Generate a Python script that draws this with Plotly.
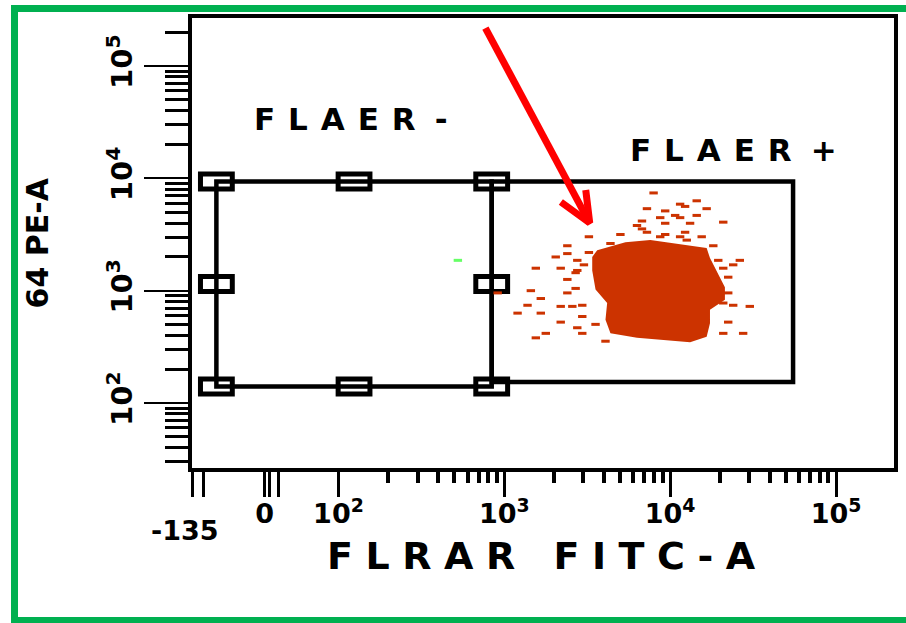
import numpy as np
import plotly.graph_objects as go

# ---------------- values (log10 of fluorescence intensity) ----------------
# outline of the dense FLAER+ event cluster
core_fitc_log = [3.56, 3.73, 3.88, 4.04, 4.22, 4.24, 4.28, 4.33, 4.33, 4.24, 4.24,
                 4.22, 4.12, 3.97, 3.80, 3.64, 3.61, 3.62, 3.55, 3.53, 3.53]
core_pe_log = [3.36, 3.43, 3.45, 3.42, 3.38, 3.29, 3.18, 3.03, 2.92, 2.83, 2.71,
               2.59, 2.54, 2.56, 2.58, 2.62, 2.74, 2.89, 3.01, 3.18, 3.30]

# sparse events scattered around the cluster
event_fitc_log = [3.90, 4.06, 4.09, 4.16, 4.22, 3.86, 3.97, 4.03, 4.06, 4.16,
                  3.94, 3.83, 3.97, 4.12, 4.32, 3.80, 3.83, 3.86, 4.09, 3.70,
                  3.97, 3.51, 3.94, 4.06, 4.19, 4.10, 3.64, 3.38, 3.51, 4.26,
                  3.38, 3.31, 3.44, 4.29, 4.42, 3.48, 4.38, 3.19, 3.34, 3.44,
                  4.32, 3.43, 3.38, 4.35, 3.43, 3.16, 3.38, 2.96, 3.22, 4.35,
                  3.14, 3.34, 3.41, 3.47, 4.38, 4.32, 4.48, 3.08, 3.22, 3.47,
                  3.34, 3.44, 3.55, 4.35, 3.25, 3.47, 4.32, 4.44, 3.19, 3.61]
event_pe_log = [3.87, 3.77, 3.75, 3.80, 3.73, 3.73, 3.71, 3.67, 3.65, 3.67,
                3.65, 3.62, 3.60, 3.60, 3.61, 3.58, 3.55, 3.52, 3.52, 3.50,
                3.50, 3.48, 3.48, 3.48, 3.48, 3.45, 3.42, 3.40, 3.34, 3.40,
                3.33, 3.30, 3.27, 3.27, 3.27, 3.23, 3.23, 3.20, 3.20, 3.18,
                3.20, 3.16, 3.10, 3.12, 3.02, 3.00, 2.98, 2.98, 2.93, 2.98,
                2.87, 2.86, 2.86, 2.87, 2.87, 2.89, 2.86, 2.80, 2.80, 2.77,
                2.72, 2.67, 2.70, 2.72, 2.62, 2.62, 2.62, 2.62, 2.58, 2.55]

# lone event inside the FLAER- gate
neg_event_fitc_log = [2.72]
neg_event_pe_log = [3.27]

# gate bounds [low, high]
flaer_neg_fitc_log = [1.264, 2.924]
flaer_neg_pe_log = [2.147, 3.972]
flaer_pos_fitc_log = [2.924, 4.741]
flaer_pos_pe_log = [2.187, 3.972]

# pointer arrow: tail, tip and the two head wings
arrow_fitc_log = [2.886, 3.515, None, 3.341, 3.515, 3.491]
arrow_pe_log = [5.338, 3.602, None, 3.789, 3.602, 3.896]

# axis ticks
x_decades = [2, 3, 4, 5]
x_decade_labels = ["10<sup>2</sup>", "10<sup>3</sup>", "10<sup>4</sup>", "10<sup>5</sup>"]
x_low_ticks_log = [1.118, 1.186, 1.5546, 1.5846, 1.6355]   # -135 ... 0 region of the display
x_low_labels = ["", "", "0", "", ""]
y_decades = [2, 3, 4, 5]
y_decade_labels = ["10<sup>2</sup>", "10<sup>3</sup>", "10<sup>4</sup>", "10<sup>5</sup>"]

# ---------------- figure ----------------
W, H = 906, 623
ML, MR, MT, MB = 192, 8, 18, 155
PW, PH = W - ML - MR, H - MT - MB
X_RANGE = [1.117, 5.3495]
Y_RANGE = [1.4213, 5.4274]
RED_EVT = "#cc3300"
GREEN = "#00b050"
FONT = "DejaVu Sans"

# handle box half-size, in decades of each axis (about 16 x 7.5 px)
HANDLE_HALF_X = 16 * (X_RANGE[1] - X_RANGE[0]) / PW
HANDLE_HALF_Y = 7.5 * (Y_RANGE[1] - Y_RANGE[0]) / PH


def to_lin(vals):
    return [None if v is None else 10 ** v for v in vals]


def px_x(p):
    return (p - ML) / PW


def px_y(p):
    return (H - MB - p) / PH


def spread(text, gap):
    return gap.join(text)


def font(size):
    return dict(family=FONT, size=size, color="black", weight="bold")


fig = go.Figure()

fig.add_trace(go.Scatter(
    x=to_lin(core_fitc_log), y=to_lin(core_pe_log), mode="lines",
    fill="toself", fillcolor=RED_EVT, line=dict(width=0, color=RED_EVT),
    hoverinfo="skip", showlegend=False))

fig.add_trace(go.Scatter(
    x=to_lin(event_fitc_log), y=to_lin(event_pe_log), mode="markers",
    marker=dict(symbol="line-ew", size=6, color=RED_EVT,
                line=dict(width=3, color=RED_EVT)),
    showlegend=False))

fig.add_trace(go.Scatter(
    x=to_lin(neg_event_fitc_log), y=to_lin(neg_event_pe_log), mode="markers",
    marker=dict(symbol="line-ew", size=6, color="#66ff66",
                line=dict(width=3, color="#66ff66")),
    showlegend=False))

fig.add_trace(go.Scatter(
    x=to_lin(arrow_fitc_log), y=to_lin(arrow_pe_log), mode="lines",
    line=dict(width=7, color="#ff0000"), hoverinfo="skip", showlegend=False))

shapes = []
for fx, py in ((flaer_neg_fitc_log, flaer_neg_pe_log),
               (flaer_pos_fitc_log, flaer_pos_pe_log)):
    shapes.append(dict(type="rect", xref="x", yref="y", layer="below",
                       x0=10 ** fx[0], x1=10 ** fx[1], y0=10 ** py[0], y1=10 ** py[1],
                       line=dict(color="black", width=4.5)))

# edit handles on the FLAER- gate: corners and edge midpoints
hx = [flaer_neg_fitc_log[0], sum(flaer_neg_fitc_log) / 2, flaer_neg_fitc_log[1]]
hy = [flaer_neg_pe_log[0], sum(flaer_neg_pe_log) / 2, flaer_neg_pe_log[1]]
for i, gx in enumerate(hx):
    for j, gy in enumerate(hy):
        if i == 1 and j == 1:
            continue
        shapes.append(dict(type="rect", xref="x", yref="y", layer="below",
                           x0=10 ** (gx - HANDLE_HALF_X), x1=10 ** (gx + HANDLE_HALF_X),
                           y0=10 ** (gy - HANDLE_HALF_Y), y1=10 ** (gy + HANDLE_HALF_Y),
                           line=dict(color="black", width=5)))

# green frame around the whole panel
shapes.append(dict(type="rect", xref="paper", yref="paper", layer="above",
                   x0=px_x(13.5), x1=px_x(915), y0=px_y(620.5), y1=px_y(8.5),
                   line=dict(color=GREEN, width=7)))

LBL_GAP = "\u2005\u2006"
annotations = [
    dict(text=spread("FLAER", LBL_GAP) + LBL_GAP + "\u2009-", x=px_x(352), y=px_y(119),
         font=font(31)),
    dict(text=spread("FLAER", LBL_GAP) + LBL_GAP + "\u2009+", x=px_x(737), y=px_y(149.5),
         font=font(31)),
    dict(text=spread("FLRAR FITC-A", "\u2004"), x=px_x(543), y=px_y(556),
         font=font(38)),
    dict(text="64 PE-A", x=px_x(36.5), y=px_y(243), textangle=-90, font=font(30)),
    dict(text="-135", x=px_x(185), y=px_y(530), font=font(27)),
]
for a in annotations:
    a.update(xref="paper", yref="paper", showarrow=False,
             xanchor="center", yanchor="middle")

minor_x = [m * 10 ** k for k in (2, 3, 4) for m in range(2, 10)]
minor_y = [m * 10 ** k for k in (1, 2, 3, 4, 5) for m in range(2, 10)
           if Y_RANGE[0] < np.log10(m * 10 ** k) < Y_RANGE[1]]

fig.update_layout(
    width=W, height=H, autosize=False,
    margin=dict(l=ML, r=MR, t=MT, b=MB, pad=0),
    paper_bgcolor="white", plot_bgcolor="white",
    showlegend=False, shapes=shapes, annotations=annotations,
    xaxis=dict(
        type="log", range=X_RANGE, showgrid=False, zeroline=False,
        showline=True, linewidth=4, linecolor="black", mirror=True,
        ticks="outside", ticklen=25, tickwidth=3, tickcolor="black",
        tickmode="array",
        tickvals=to_lin(x_low_ticks_log + x_decades),
        ticktext=x_low_labels + x_decade_labels,
        tickfont=font(27),
        tickangle=0, ticklabelstandoff=-6,
        minor=dict(tickmode="array", tickvals=minor_x, ticks="outside",
                   ticklen=11, tickwidth=4, tickcolor="black", showgrid=False),
    ),
    yaxis=dict(
        type="log", range=Y_RANGE, showgrid=False, zeroline=False,
        showline=True, linewidth=4, linecolor="black", mirror=True,
        ticks="outside", ticklen=44, tickwidth=2, tickcolor="black",
        tickmode="array", tickvals=to_lin(y_decades), ticktext=y_decade_labels,
        tickfont=font(29),
        tickangle=-90,
        minor=dict(tickmode="array", tickvals=minor_y, ticks="outside",
                   ticklen=23, tickwidth=3, tickcolor="black", showgrid=False),
    ),
)

fig.write_html("out.html")
